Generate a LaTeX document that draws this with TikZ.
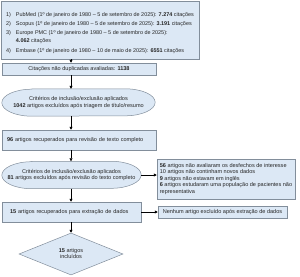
\documentclass[tikz,border=0pt]{standalone}
\usepackage{fontspec}
\setmainfont{Liberation Sans}
\usetikzlibrary{shapes.geometric,arrows.meta,backgrounds}
\definecolor{boxfill}{RGB}{220,232,245}
\definecolor{boxline}{RGB}{130,142,155}
\begin{document}
\begin{tikzpicture}[x=1pt,y=-1pt,
  every node/.style={font=\fontsize{5.55}{6.5}\selectfont,text=black!85},
  flowbox/.style={draw=boxline,fill=boxfill,line width=0.5pt,inner sep=0pt},
  ovalbox/.style={inner sep=0pt,align=center},
  flowarrow/.style={-{Triangle[length=3pt,width=3pt]},line width=0.6pt}]
\useasboundingbox (0,0) rectangle (300,276);
% databases searched
\node[flowbox,minimum width=198,minimum height=58] (src) at (100,30) {\fontsize{5.45}{7.7}\selectfont
  \begin{tabular}{@{}l@{\hspace{5pt}}l@{}}
  \rule{0pt}{11pt}1) & PubMed (1º de janeiro de 1980 – 5 de setembro de 2025): \textbf{7.274} citações\\[1.4pt]
  2) & Scopus (1º de janeiro de 1980 – 5 de setembro de 2025): \textbf{3.191} citações\\[1.4pt]
  3) & Europe PMC (1º de janeiro de 1980 – 5 de setembro de 2025):\\
     & \textbf{4.062} citações\\[2pt]
  4) & Embase (1º de janeiro de 1980 – 10 de maio de 2025): \textbf{6551} citações
  \end{tabular}};
\node[flowbox,minimum width=154,minimum height=12] (dedup) at (79,69) {Citações não duplicadas avaliadas: \textbf{1138}};
% screening
\node[ovalbox,minimum width=153,minimum height=27] (screen) at (78.5,102.5)
  {Critérios de inclusão/exclusão aplicados\\
  \textbf{1042} artigos excluídos após triagem de título/resumo};
\node[flowbox,minimum width=154,minimum height=20,text width=144,align=left] (full) at (79,140)
  {\textbf{96} artigos recuperados para revisão de texto completo};
% eligibility
\node[ovalbox,minimum width=139,minimum height=27] (elig) at (71.5,175)
  {Critérios de inclusão/exclusão aplicados\\
  \textbf{81} artigos excluídos após revisão do texto completo};
\node[flowbox,minimum width=138,minimum height=40,align=left] (excl) at (226,179)
  {\textbf{56} artigos não avaliaram os desfechos de interesse\\
   10 artigos não continham novos dados\\
   \textbf{9} artigos não estavam em inglês\\
   \textbf{6} artigos estudaram uma população de pacientes não\\
   representativa};
\node[flowbox,minimum width=139,minimum height=20,text width=123,align=left] (extr) at (71.5,212)
  {\textbf{15} artigos recuperados para extração de dados};
\node[flowbox,minimum width=129,minimum height=12] (none) at (222.5,212)
  {Nenhum artigo excluído após extração de dados};
% included
\node[flowbox,diamond,minimum width=104,minimum height=42] (incl) at (71,254)
  {\makebox[0pt]{\begin{tabular}{@{}c@{}}\textbf{15} artigos\\incluídos\end{tabular}}};
% oval outlines behind the two criteria nodes
\begin{scope}[on background layer]
\foreach \n in {screen,elig}
  \draw[flowbox] ([xshift=30]\n.north west) -- ([xshift=-30]\n.north east)
    arc[start angle=-90,end angle=90,x radius=30,y radius=13.5] -- ([xshift=30]\n.south west)
    arc[start angle=90,end angle=270,x radius=30,y radius=13.5] -- cycle;
\end{scope}
% connectors
\coordinate (spine) at (71,0);
\foreach \a/\b in {src/dedup,dedup/screen,screen/full,full/elig,elig/extr,extr/incl}
  \draw[flowarrow] (\a.south -| spine) -- (\b.north -| spine);
\draw[flowarrow] (elig.east) -- (elig.east -| excl.west);
\draw[flowarrow] (extr.east) -- (extr.east -| none.west);
\end{tikzpicture}
\end{document}
